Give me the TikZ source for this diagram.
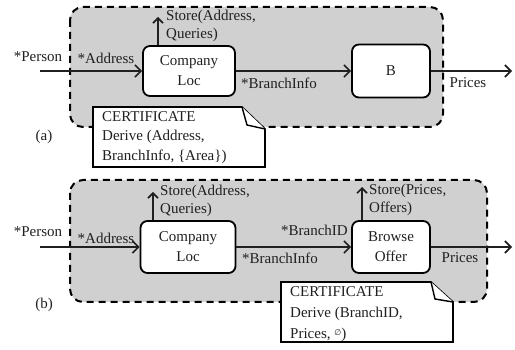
\documentclass[tikz,border=0pt]{standalone}
\usepackage{fontspec}
\setmainfont{Liberation Serif}
\newfontfamily\djv{DejaVu Sans}
\usetikzlibrary{arrows.meta}
\definecolor{grayfill}{HTML}{D0D0D0}
\definecolor{ink}{HTML}{202020}
\begin{document}
\begin{tikzpicture}[x=1pt,y=-1pt,
  frame/.style={draw=black, line width=2pt, dash pattern=on 7pt off 5pt, fill=grayfill, rounded corners=13pt},
  proc/.style={draw=black, line width=1.8pt, fill=white, rounded corners=7pt, align=center, inner sep=0pt, font=\fontsize{15}{20}\selectfont, text=ink},
  flow/.style={line width=1.1pt, draw=ink, -{Straight Barb[length=6pt,width=12pt,line width=1.6pt]}},
  up/.style={line width=1.3pt, draw=ink, -{Straight Barb[length=5pt,width=10pt,line width=1.6pt]}},
  lbl/.style={font=\fontsize{15}{18}\selectfont, inner sep=0pt, text=ink, align=left},
  note/.style={draw=black, line width=1.6pt, fill=white, line join=miter},
]
\useasboundingbox (0,0) rectangle (515,350);

% ---------- panel (a) ----------
\draw[frame] (70,7) rectangle (443,127);
\coordinate (pa) at (40,71);
\coordinate (oa) at (512,71);
\coordinate (sa) at (158,17);
\node[proc, minimum width=92pt, minimum height=50pt] (cla) at (189,71) {Company\\Loc};
\node[proc, minimum width=78pt, minimum height=53pt] (ba) at (391,71) {B};
\draw[flow] (pa) -- (cla.west);
\draw[flow] (cla.east) -- (ba.west);
\draw[flow] (ba.east) -- (oa);
\draw[up] (cla.north -| sa) -- (sa);
\node[lbl] (persa) at (38,57) {*Person};
\node[lbl] (addra) at (106,58) {*Address};
\node[lbl, anchor=west] (storea) at (166,26) {Store(Address,\\Queries)};
\node[lbl] (bia) at (279,83) {*BranchInfo};
\node[lbl] (pra) at (468,83) {Prices};
\node[lbl] (capa) at (44,137) {(a)};
\draw[note] (93,107) -- (242,107) -- (265,129) -- (265,167) -- (93,167) -- cycle;
\draw[note, line width=1.4pt] (242,107) -- (247,125) -- (265,129);
\node[lbl, anchor=north west, font=\fontsize{15}{19.5}\selectfont] (certa) at (102,111)
  {CERTIFICATE\\Derive (Address,\\BranchInfo, \{Area\})};

% ---------- panel (b) ----------
\draw[frame] (70,180) rectangle (487,302);
\coordinate (pb) at (40,247);
\coordinate (ob) at (512,247);
\coordinate (sb) at (153,192);
\coordinate (sc) at (362,187);
\node[proc, minimum width=95pt, minimum height=52pt] (clb) at (188,247) {Company\\Loc};
\node[proc, minimum width=78pt, minimum height=52pt] (bo) at (391,247) {Browse\\Offer};
\draw[flow] (pb) -- (clb.west);
\draw[flow] (clb.east) -- (bo.west);
\draw[flow] (bo.east) -- (ob);
\draw[up] (clb.north -| sb) -- (sb);
\draw[up] (bo.north -| sc) -- (sc);
\node[lbl] (persb) at (38,232) {*Person};
\node[lbl] (addrb) at (106,238) {*Address};
\node[lbl, anchor=west] (storeb) at (160,201) {Store(Address,\\Queries)};
\node[lbl, anchor=west] (storec) at (369,200) {Store(Prices,\\Offers)};
\node[lbl] (bib) at (280,258) {*BranchInfo};
\node[lbl, anchor=east] (bid) at (348,230) {*BranchID};
\node[lbl] (prb) at (460,258) {Prices};
\node[lbl] (capb) at (44,305) {(b)};
\draw[note] (281,282) -- (431,282) -- (453,302) -- (453,342) -- (281,342) -- cycle;
\draw[note, line width=1.4pt] (431,282) -- (435,299) -- (453,302);
\node[lbl, anchor=north west, font=\fontsize{15}{21}\selectfont] (certb) at (290,286)
  {CERTIFICATE\\Derive (BranchID,\\Prices, {\djv\fontsize{8}{8}\selectfont\raisebox{3pt}{∅}})};
\end{tikzpicture}
\end{document}
